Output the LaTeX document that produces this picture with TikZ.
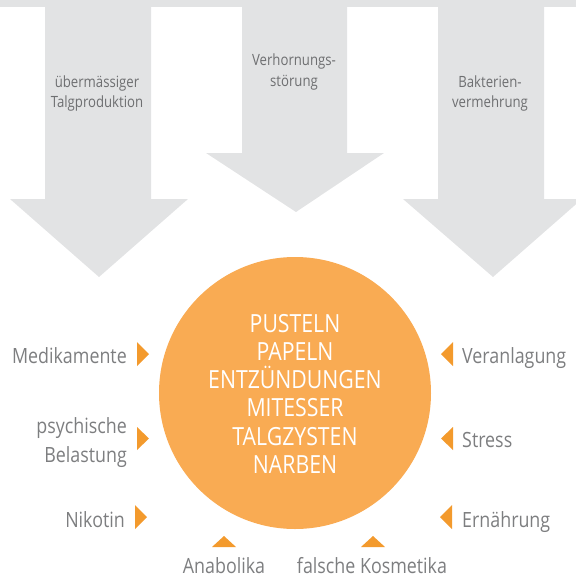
\documentclass[tikz,border=0pt]{standalone}
\usepackage{fontspec}
\setmainfont[FakeStretch=0.85]{Open Sans}
\definecolor{arrowgray}{HTML}{E2E3E4}
\definecolor{circ}{HTML}{F9AB53}
\definecolor{tri}{HTML}{F39A2D}
\definecolor{lbl}{HTML}{7D7E80}
\definecolor{albl}{HTML}{6E6F71}
\begin{document}
\begin{tikzpicture}[x=1pt,y=-1pt,
  arrowlabel/.style={anchor=base,text=albl,font=\fontsize{15.5}{18}\selectfont,inner sep=0pt},
  sidelabel/.style={text=lbl,font=\fontsize{21}{24}\selectfont,inner sep=0pt},
  circlabel/.style={anchor=base,text=white,font=\fontsize{25}{28}\selectfont,inner sep=0pt},
  trimark/.style={fill=tri}]
\useasboundingbox (0,0) rectangle (576,579);
\clip (0,0) rectangle (576,579);
% top band and arrows
\fill[arrowgray] (0,0) rectangle (576,7);
\fill[arrowgray] (45,0) -- (151,0) -- (151,199) -- (188,199) -- (99,277) -- (10,199) -- (45,199) -- cycle;
\fill[arrowgray] (242,0) -- (347,0) -- (347,153) -- (384,153) -- (296,212) -- (206,153) -- (242,153) -- cycle;
\fill[arrowgray] (438,0) -- (544,0) -- (544,199) -- (582,199) -- (493,277) -- (403,199) -- (438,199) -- cycle;
% arrow labels
\node[arrowlabel] (a1) at (97,87) {übermässiger};
\node[arrowlabel] (a2) at (97,107) {Talgproduktion};
\node[arrowlabel] (b1) at (294,65) {Verhornungs-};
\node[arrowlabel] (b2) at (294,86) {störung};
\node[arrowlabel] (c1) at (490,87) {Bakterien-};
\node[arrowlabel] (c2) at (490,107) {vermehrung};
% circle
\node[circle,fill=circ,minimum size=272pt,inner sep=0pt] (circ) at (295,393) {};
\node[circlabel] (t1) at (295,332) {PUSTELN};
\node[circlabel] (t2) at (295,360) {PAPELN};
\node[circlabel] (t3) at (295,388) {ENTZÜNDUNGEN};
\node[circlabel] (t4) at (295,416) {MITESSER};
\node[circlabel] (t5) at (295,445) {TALGZYSTEN};
\node[circlabel] (t6) at (295,473) {NARBEN};
% left labels
\node[sidelabel,anchor=base east] (l1) at (127,363) {Medikamente};
\node[sidelabel,anchor=base east] (l2a) at (127,433) {psychische};
\node[sidelabel,anchor=base east] (l2b) at (127,462) {Belastung};
\node[sidelabel,anchor=base east] (l3) at (125,527) {Nikotin};
\fill[trimark] (137,342) -- (149,354) -- (137,366) -- cycle;
\fill[trimark] (137,427) -- (149,438.5) -- (137,450) -- cycle;
\fill[trimark] (135,505) -- (147,517) -- (135,529) -- cycle;
% right labels
\node[sidelabel,anchor=base west] (r1) at (462,363) {Veranlagung};
\node[sidelabel,anchor=base west] (r2) at (462,447) {Stress};
\node[sidelabel,anchor=base west] (r3) at (462,527) {Ernährung};
\fill[trimark] (453,342) -- (441,354) -- (453,366) -- cycle;
\fill[trimark] (453,427) -- (441,438.5) -- (453,450) -- cycle;
\fill[trimark] (452,505) -- (440,517) -- (452,529) -- cycle;
% bottom labels
\node[sidelabel,anchor=base] (d1) at (224,573) {Anabolika};
\node[sidelabel,anchor=base] (d2) at (372,573) {falsche Kosmetika};
\fill[trimark] (212,547) -- (224,536) -- (236,547) -- cycle;
\fill[trimark] (361,547) -- (373,536) -- (385,547) -- cycle;
\end{tikzpicture}
\end{document}
